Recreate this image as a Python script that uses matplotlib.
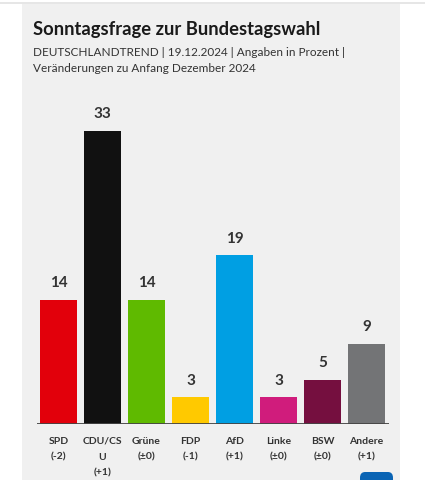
import matplotlib.pyplot as plt
from matplotlib.patches import Rectangle, FancyBboxPatch

plt.rcParams['font.family'] = ['Lato', 'DejaVu Sans']

parties = ['SPD', 'CDU/CS\nU', 'Grüne', 'FDP', 'AfD', 'Linke', 'BSW', 'Andere']
changes = ['(-2)', '(+1)', '(±0)', '(-1)', '(+1)', '(±0)', '(±0)', '(+1)']
values = [14, 33, 14, 3, 19, 3, 5, 9]
colors = ['#e2000b', '#111111', '#5fba00', '#ffc900', '#009fe3', '#d01c7c', '#750f3f', '#737476']

W, H = 425, 480
fig = plt.figure(figsize=(W / 100, H / 100), dpi=100)
fig.patch.set_facecolor('white')

# grey card
fig.patches.append(Rectangle((22 / W, 0), 378 / W, (H - 4) / H, transform=fig.transFigure,
                             facecolor='#f0f0f0', edgecolor='none', zorder=-2))
fig.patches.append(Rectangle((0, (H - 4) / H), 1, 1.5 / H, transform=fig.transFigure,
                             facecolor='#e6e6e6', edgecolor='none', zorder=-2))

fig.text(33 / W, 1 - 30 / H, 'Sonntagsfrage zur Bundestagswahl', fontsize=13.2, fontweight='bold',
         color='#1a1a1a', va='center', ha='left')
fig.text(33 / W, 1 - 52 / H, 'DEUTSCHLANDTREND | 19.12.2024 | Angaben in Prozent |', fontsize=8.5,
         color='#333333', va='center', ha='left')
fig.text(33 / W, 1 - 68 / H, 'Veränderungen zu Anfang Dezember 2024', fontsize=8.5,
         color='#333333', va='center', ha='left')

# bars
ppu = 8.88
ymax = 36
ax = fig.add_axes([36.5 / W, 56 / H, 352 / W, ymax * ppu / H], zorder=2)
ax.set_facecolor('none')
x = range(len(values))
bars = ax.bar(x, values, width=0.84, color=colors, zorder=2)
for b, v in zip(bars, values):
    ax.annotate(str(v), (b.get_x() + b.get_width() / 2, v), xytext=(0, 7), textcoords='offset points',
                ha='center', va='bottom', fontsize=11, fontweight='bold', color='#333333')
ax.set_xlim(-0.5, 7.5)
ax.set_ylim(0, ymax)
ax.axhline(0, color='#444444', lw=1.3, zorder=3)
for s in ax.spines.values():
    s.set_visible(False)
ax.set_yticks([])
ax.set_xticks(list(x))
ax.set_xticklabels([p + '\n' + c for p, c in zip(parties, changes)], fontsize=7.5, color='#333333',
                   linespacing=2.0, va='top')
ax.tick_params(axis='x', length=0, pad=9)
for lbl in ax.get_xticklabels():
    lbl.set_fontweight('bold')

# tagesschau badge
fig.patches.append(FancyBboxPatch((360 / W, -10 / H), 33 / W, 18 / H, transform=fig.transFigure,
                                  boxstyle='round,pad=0,rounding_size=0.012', facecolor='#0a64b4',
                                  edgecolor='none', zorder=5))

fig.savefig('out.png', dpi=100, facecolor='white')
